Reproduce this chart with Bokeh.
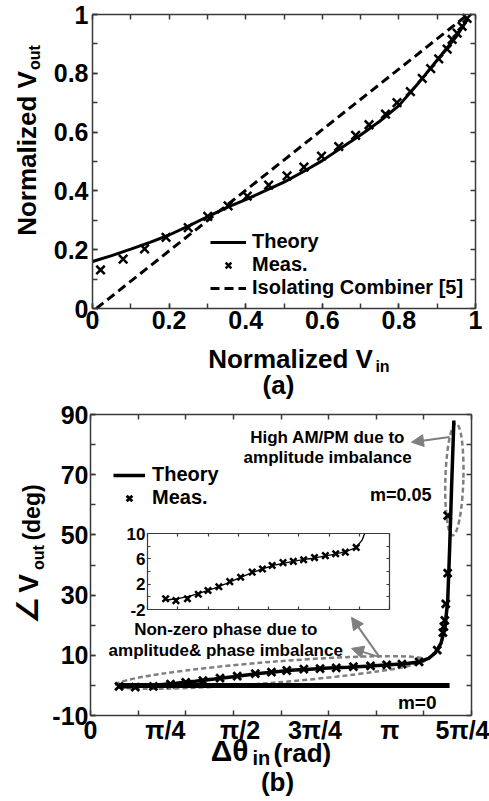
import math
import numpy as np
from bokeh.plotting import figure
from bokeh.layouts import column
from bokeh.models import (FixedTicker, LinearAxis, Range1d, Label, Legend, LegendItem,
                          Arrow, NormalHead, ColumnDataSource)
from bokeh.embed import file_html
from bokeh.resources import INLINE

FONT = "Liberation Sans"
AX_COLOR = "#3a3a3a"
GRAY = "#7f7f7f"

# ---------------- panel (a) data ----------------
A_THEORY_VIN = [0.0, 0.05, 0.1, 0.15, 0.2, 0.25, 0.3, 0.35, 0.4, 0.45, 0.5, 0.55,
                0.6, 0.65, 0.7, 0.75, 0.8, 0.85, 0.9, 0.95, 0.98]
A_THEORY_VOUT = [0.16, 0.18, 0.202, 0.225, 0.25, 0.28, 0.312, 0.343, 0.37, 0.40, 0.43, 0.465,
                 0.503, 0.547, 0.59, 0.637, 0.69, 0.765, 0.845, 0.925, 0.985]
A_MEAS_VIN = [0.021, 0.08, 0.136, 0.192, 0.25, 0.301, 0.354, 0.404, 0.46, 0.508, 0.552, 0.598,
              0.643, 0.687, 0.722, 0.765, 0.795, 0.83, 0.861, 0.883, 0.904, 0.926, 0.939,
              0.952, 0.965, 0.978]
A_MEAS_VOUT = [0.131, 0.168, 0.203, 0.242, 0.275, 0.313, 0.349, 0.382, 0.42, 0.451, 0.481, 0.518,
               0.551, 0.589, 0.625, 0.661, 0.70, 0.738, 0.783, 0.816, 0.849, 0.882, 0.915,
               0.937, 0.96, 0.987]
A_ISO_VIN = [0.01, 0.98]
A_ISO_VOUT = [0.0, 1.0]
A_X = (0, 1)
A_Y = (0, 1)
A_TICKS = [0, 0.2, 0.4, 0.6, 0.8, 1]
A_TICK_LABELS = ["0", "0.2", "0.4", "0.6", "0.8", "1"]
A_MINOR = [0, 0.1, 0.2, 0.3, 0.4, 0.5, 0.6, 0.7, 0.8, 0.9, 1]

# ---------------- panel (b) data ----------------
B_THEORY_DTHETA = [0.30, 0.5, 0.7, 0.9, 1.1, 1.3, 1.5, 1.7, 1.9, 2.1, 2.3, 2.5, 2.7, 2.9,
                   3.1, 3.3, 3.45, 3.55, 3.62, 3.68, 3.72, 3.75, 3.77, 3.79, 3.815]
B_THEORY_PHASE = [-0.5, -0.3, 0.1, 0.7, 1.35, 2.1, 2.9, 3.7, 4.4, 5.0, 5.4, 5.75, 6.05, 6.4,
                  6.75, 7.2, 7.8, 9.0, 10.8, 14.0, 19.0, 28.0, 45.0, 65.0, 88.0]
B_M0_DTHETA = [0.30, 3.77]
B_M0_PHASE = [0.0, 0.0]
B_MEAS_DTHETA = [0.30, 0.47, 0.66, 0.84, 1.00, 1.18, 1.36, 1.54, 1.73, 1.90, 2.06, 2.24, 2.41,
                 2.58, 2.76, 2.94, 3.11, 3.27, 3.45, 3.64, 3.70, 3.71, 3.72, 3.73, 3.75, 3.75]
B_MEAS_PHASE = [-0.3, -0.6, -0.3, 0.4, 1.0, 1.6, 2.4, 3.1, 3.9, 4.4, 4.95, 5.4, 5.6,
                5.85, 6.2, 6.5, 6.8, 7.05, 7.8, 11.7, 17.5, 19.5, 21.6, 27.1, 37.3, 56.4]
B_X = (0, 4)
B_Y = (-10, 90)
B_X_TICKS = [0, math.pi / 4, math.pi / 2, 3 * math.pi / 4, math.pi, 5 * math.pi / 4]
B_X_TICK_LABELS = ["0", "π/4", "π/2", "3π/4", "π", "5π/4"]
B_X_MINOR = [0, 0.5, 1.0, 1.5, 2.0, 2.5, 3.0, 3.5, 4.0]
B_Y_TICKS = [-10, 10, 30, 50, 70, 90]
B_Y_TICK_LABELS = ["-10", "10", "30", "50", "70", "90"]
B_Y_MINOR = [-10, 0, 10, 20, 30, 40, 50, 60, 70, 80, 90]

# inset (zoom of the low-phase region)
INSET_X = (0, 4)
INSET_Y = (-2, 10)
INSET_Y_TICKS = [-2, 2, 6, 10]
INSET_Y_TICK_LABELS = ["-2", "2", "6", "10"]
INSET_Y_MINOR = [-2, 0, 2, 4, 6, 8, 10]
INSET_X_MINOR = [0, 0.5, 1.0, 1.5, 2.0, 2.5, 3.0, 3.5, 4.0]

# annotations of panel (b)
ELL_X = [1.89, 3.82]
ELL_Y = [4.3, 68.4]
ELL_W = [310, 18]
ELL_H = [21, 112]
ELL_ANGLE = [0.081, -0.03]
ARR_X0 = [3.77, 3.035, 3.035]
ARR_Y0 = [82.5, 9.4, 9.4]
ARR_X1 = [3.37, 2.74, 2.74]
ARR_Y1 = [80.8, 22.6, 12.3]

# ---------------- layout (canvas pixels) ----------------
W = 489
H_A, H_B = 400, 400
BOX_A = dict(left=92, right=475, top=14, bottom=308)
BOX_B = dict(left=90, right=471, top=14, bottom=315)
BOX_INSET = dict(left=147, right=389, top=133, bottom=209)


def ranges_for(box, w, h, xr, yr):
    sx = (box["right"] - box["left"]) / (xr[1] - xr[0])
    sy = (box["bottom"] - box["top"]) / (yr[1] - yr[0])
    return (Range1d(xr[0] - box["left"] / sx, xr[1] + (w - box["right"]) / sx),
            Range1d(yr[0] - (h - box["bottom"]) / sy, yr[1] + box["top"] / sy))


def style_axis(ax, ticks, minor, labels=None, size_px=25, standoff=4, tick_len=5,
               major_ticks=True, lw=1.5):
    ax.ticker = FixedTicker(ticks=list(ticks), minor_ticks=list(minor))
    if labels is not None:
        ax.major_label_overrides = {t: l for t, l in zip(ticks, labels)}
    ax.axis_line_color = AX_COLOR
    ax.axis_line_width = lw
    ax.major_tick_line_color = AX_COLOR if major_ticks else None
    ax.major_tick_line_width = lw
    ax.minor_tick_line_color = AX_COLOR
    ax.minor_tick_line_width = lw
    ax.major_tick_in = tick_len
    ax.major_tick_out = 0
    ax.minor_tick_in = tick_len
    ax.minor_tick_out = 0
    ax.major_label_text_font = FONT
    ax.major_label_text_font_style = "bold"
    ax.major_label_text_font_size = f"{size_px}px"
    ax.major_label_text_color = "black"
    ax.major_label_standoff = standoff


def box_axes(p, xr, yr, xt, xm, xl, yt, ym, yl, size_px=25, xstand=2, ystand=4,
             tick_len=5, lw=1.5, major_x=True, rn=("default", "default")):
    kw = dict(x_range_name=rn[0], y_range_name=rn[1])
    bottom = LinearAxis(fixed_location=yr[0], bounds=xr, **kw)
    style_axis(bottom, xt, xm, xl, size_px, xstand, tick_len, major_x, lw)
    p.add_layout(bottom, "below")
    left = LinearAxis(fixed_location=xr[0], bounds=yr, **kw)
    style_axis(left, yt, ym, yl, size_px, ystand, tick_len, True, lw)
    p.add_layout(left, "left")
    top = LinearAxis(fixed_location=yr[1], bounds=xr, **kw)
    style_axis(top, [], xm, None, 0, 0, tick_len, True, lw)
    p.add_layout(top, "above")
    right = LinearAxis(fixed_location=xr[1], bounds=yr, **kw)
    style_axis(right, [], ym, None, 0, 0, tick_len, True, lw)
    p.add_layout(right, "right")


def add_label(p, text, x, y, size, angle=0.0, align="center", font=FONT, units="screen",
              baseline="middle"):
    p.add_layout(Label(x=x, y=y, x_units=units, y_units=units, text=text, angle=angle,
                       text_align=align, text_baseline=baseline, text_font=font,
                       text_font_style="bold", text_font_size=f"{size}px",
                       text_color="black"))


def style_legend(lg, glyph_w, standoff):
    lg.border_line_alpha = 0
    lg.background_fill_alpha = 0
    lg.label_text_font = FONT
    lg.label_text_font_style = "bold"
    lg.label_text_font_size = "20px"
    lg.label_text_color = "black"
    lg.glyph_width = glyph_w
    lg.glyph_height = 20
    lg.label_height = 23
    lg.label_standoff = standoff
    lg.spacing = 0
    lg.padding = 0
    lg.margin = 0


def make_fig(h, xr, yr):
    p = figure(width=W, height=h, x_range=xr, y_range=yr, output_backend="svg",
               toolbar_location=None, x_axis_location=None, y_axis_location=None,
               min_border=0, min_border_left=0, min_border_right=0, min_border_top=0,
               min_border_bottom=0)
    p.outline_line_color = None
    p.grid.visible = False
    return p


# =============== panel (a) ===============
xa, ya = ranges_for(BOX_A, W, H_A, A_X, A_Y)
pa = make_fig(H_A, xa, ya)
box_axes(pa, A_X, A_Y, A_TICKS, A_MINOR, A_TICK_LABELS, A_TICKS, A_MINOR, A_TICK_LABELS,
         xstand=2, ystand=4)

ra_th = pa.line(A_THEORY_VIN, A_THEORY_VOUT, line_color="black", line_width=3)
ra_me = pa.scatter(A_MEAS_VIN, A_MEAS_VOUT, marker="x", size=12, line_color="black",
                   line_width=2.5)
ra_iso = pa.line(A_ISO_VIN, A_ISO_VOUT, line_color="black", line_width=3, line_dash="9 5")

leg_a = Legend(items=[LegendItem(label="Theory", renderers=[ra_th]),
                      LegendItem(label="Meas.", renderers=[ra_me]),
                      LegendItem(label="Isolating Combiner [5]", renderers=[ra_iso])],
               location=(210, 101))
style_legend(leg_a, 36, 6)
pa.add_layout(leg_a)

# titles (screen px from canvas bottom-left; anchors are text centres)
add_label(pa, "Normalized V", 290, 42, 26)
add_label(pa, "in", 382, 34.5, 16)
add_label(pa, "Normalized V", 26.5, 247, 26, angle=math.pi / 2)
add_label(pa, "out", 33.5, 343, 16, angle=math.pi / 2)
add_label(pa, "(a)", 278, 16, 26)

# =============== panel (b) ===============
xb, yb = ranges_for(BOX_B, W, H_B, B_X, B_Y)
pb = make_fig(H_B, xb, yb)
box_axes(pb, B_X, B_Y, B_X_TICKS, B_X_MINOR, B_X_TICK_LABELS, B_Y_TICKS, B_Y_MINOR,
         B_Y_TICK_LABELS, xstand=0, ystand=2, major_x=False)

ix, iy = ranges_for(BOX_INSET, W, H_B, INSET_X, INSET_Y)
pb.extra_x_ranges = {"ix": ix}
pb.extra_y_ranges = {"iy": iy}
box_axes(pb, INSET_X, INSET_Y, [], INSET_X_MINOR, None, INSET_Y_TICKS, INSET_Y_MINOR,
         INSET_Y_TICK_LABELS, size_px=17, xstand=0, ystand=2, tick_len=3, lw=1.2,
         rn=("ix", "iy"))

# dashed gray ellipses
pb.ellipse(x=ELL_X, y=ELL_Y, width=ELL_W, height=ELL_H, angle=ELL_ANGLE,
           width_units="screen", height_units="screen", fill_alpha=0,
           line_color=GRAY, line_width=2.5, line_dash="5 3")

# m = 0 theory
pb.line(B_M0_DTHETA, B_M0_PHASE, line_color="black", line_width=5)
# m = 0.05 theory and measurement
rb_th = pb.line(B_THEORY_DTHETA, B_THEORY_PHASE, line_color="black", line_width=3.5)
rb_me = pb.scatter(B_MEAS_DTHETA, B_MEAS_PHASE, marker="x", size=11, line_color="black",
                   line_width=2.8)

# inset content (limited to the inset y-range)
th_x = np.array(B_THEORY_DTHETA)
th_y = np.array(B_THEORY_PHASE)
keep = th_y <= INSET_Y[1]
x_top = float(np.interp(INSET_Y[1], th_y, th_x))
pb.line(list(th_x[keep]) + [x_top], list(th_y[keep]) + [INSET_Y[1]],
        line_color="black", line_width=1.3, x_range_name="ix", y_range_name="iy")
me_x = np.array(B_MEAS_DTHETA)
me_y = np.array(B_MEAS_PHASE)
mk = me_y <= INSET_Y[1]
pb.scatter(me_x[mk], me_y[mk], marker="x", size=9, line_color="black", line_width=2.5,
           x_range_name="ix", y_range_name="iy")

# arrows
arr_src = ColumnDataSource(dict(x0=ARR_X0, y0=ARR_Y0, x1=ARR_X1, y1=ARR_Y1))
pb.add_layout(Arrow(x_start="x0", y_start="y0", x_end="x1", y_end="y1", source=arr_src,
                    line_color=GRAY, line_width=2,
                    end=NormalHead(size=12, fill_color=GRAY, line_color=GRAY)))

# annotation texts (data units)
add_label(pb, "High AM/PM due to", 2.49, 82.4, 17, units="data")
add_label(pb, "amplitude imbalance", 2.49, 75.7, 17, units="data")
add_label(pb, "m=0.05", 3.58, 63.1, 18, align="right", units="data")
add_label(pb, "Non-zero phase due to", 1.42, 18.6, 17, units="data")
add_label(pb, "amplitude& phase imbalance", 1.42, 11.6, 17, units="data")
add_label(pb, "m=0", 3.43, -5.7, 19, units="data")

leg_b = Legend(items=[LegendItem(label="Theory", renderers=[rb_th]),
                      LegendItem(label="Meas.", renderers=[rb_me])],
               location=(113, 291))
style_legend(leg_b, 32, 7)
pb.add_layout(leg_b)

# titles (screen px from canvas bottom-left; anchors are text centres)
add_label(pb, "Δθ", 248, 50.5, 30, align="right")
add_label(pb, "in", 252, 42.5, 20, align="left")
add_label(pb, "(rad)", 273, 47.5, 26, align="left")
add_label(pb, "∠", 26.5, 190, 30, angle=math.pi / 2, font="DejaVu Sans")
add_label(pb, "V", 27.5, 217, 28, angle=math.pi / 2)
add_label(pb, "out", 37.5, 243, 16, angle=math.pi / 2)
add_label(pb, "(deg)", 31.5, 288, 23, angle=math.pi / 2)
add_label(pb, "(b)", 277, 18.5, 26)

layout = column(pa, pb, spacing=0)
open("out.html", "w").write(file_html(layout, INLINE))
